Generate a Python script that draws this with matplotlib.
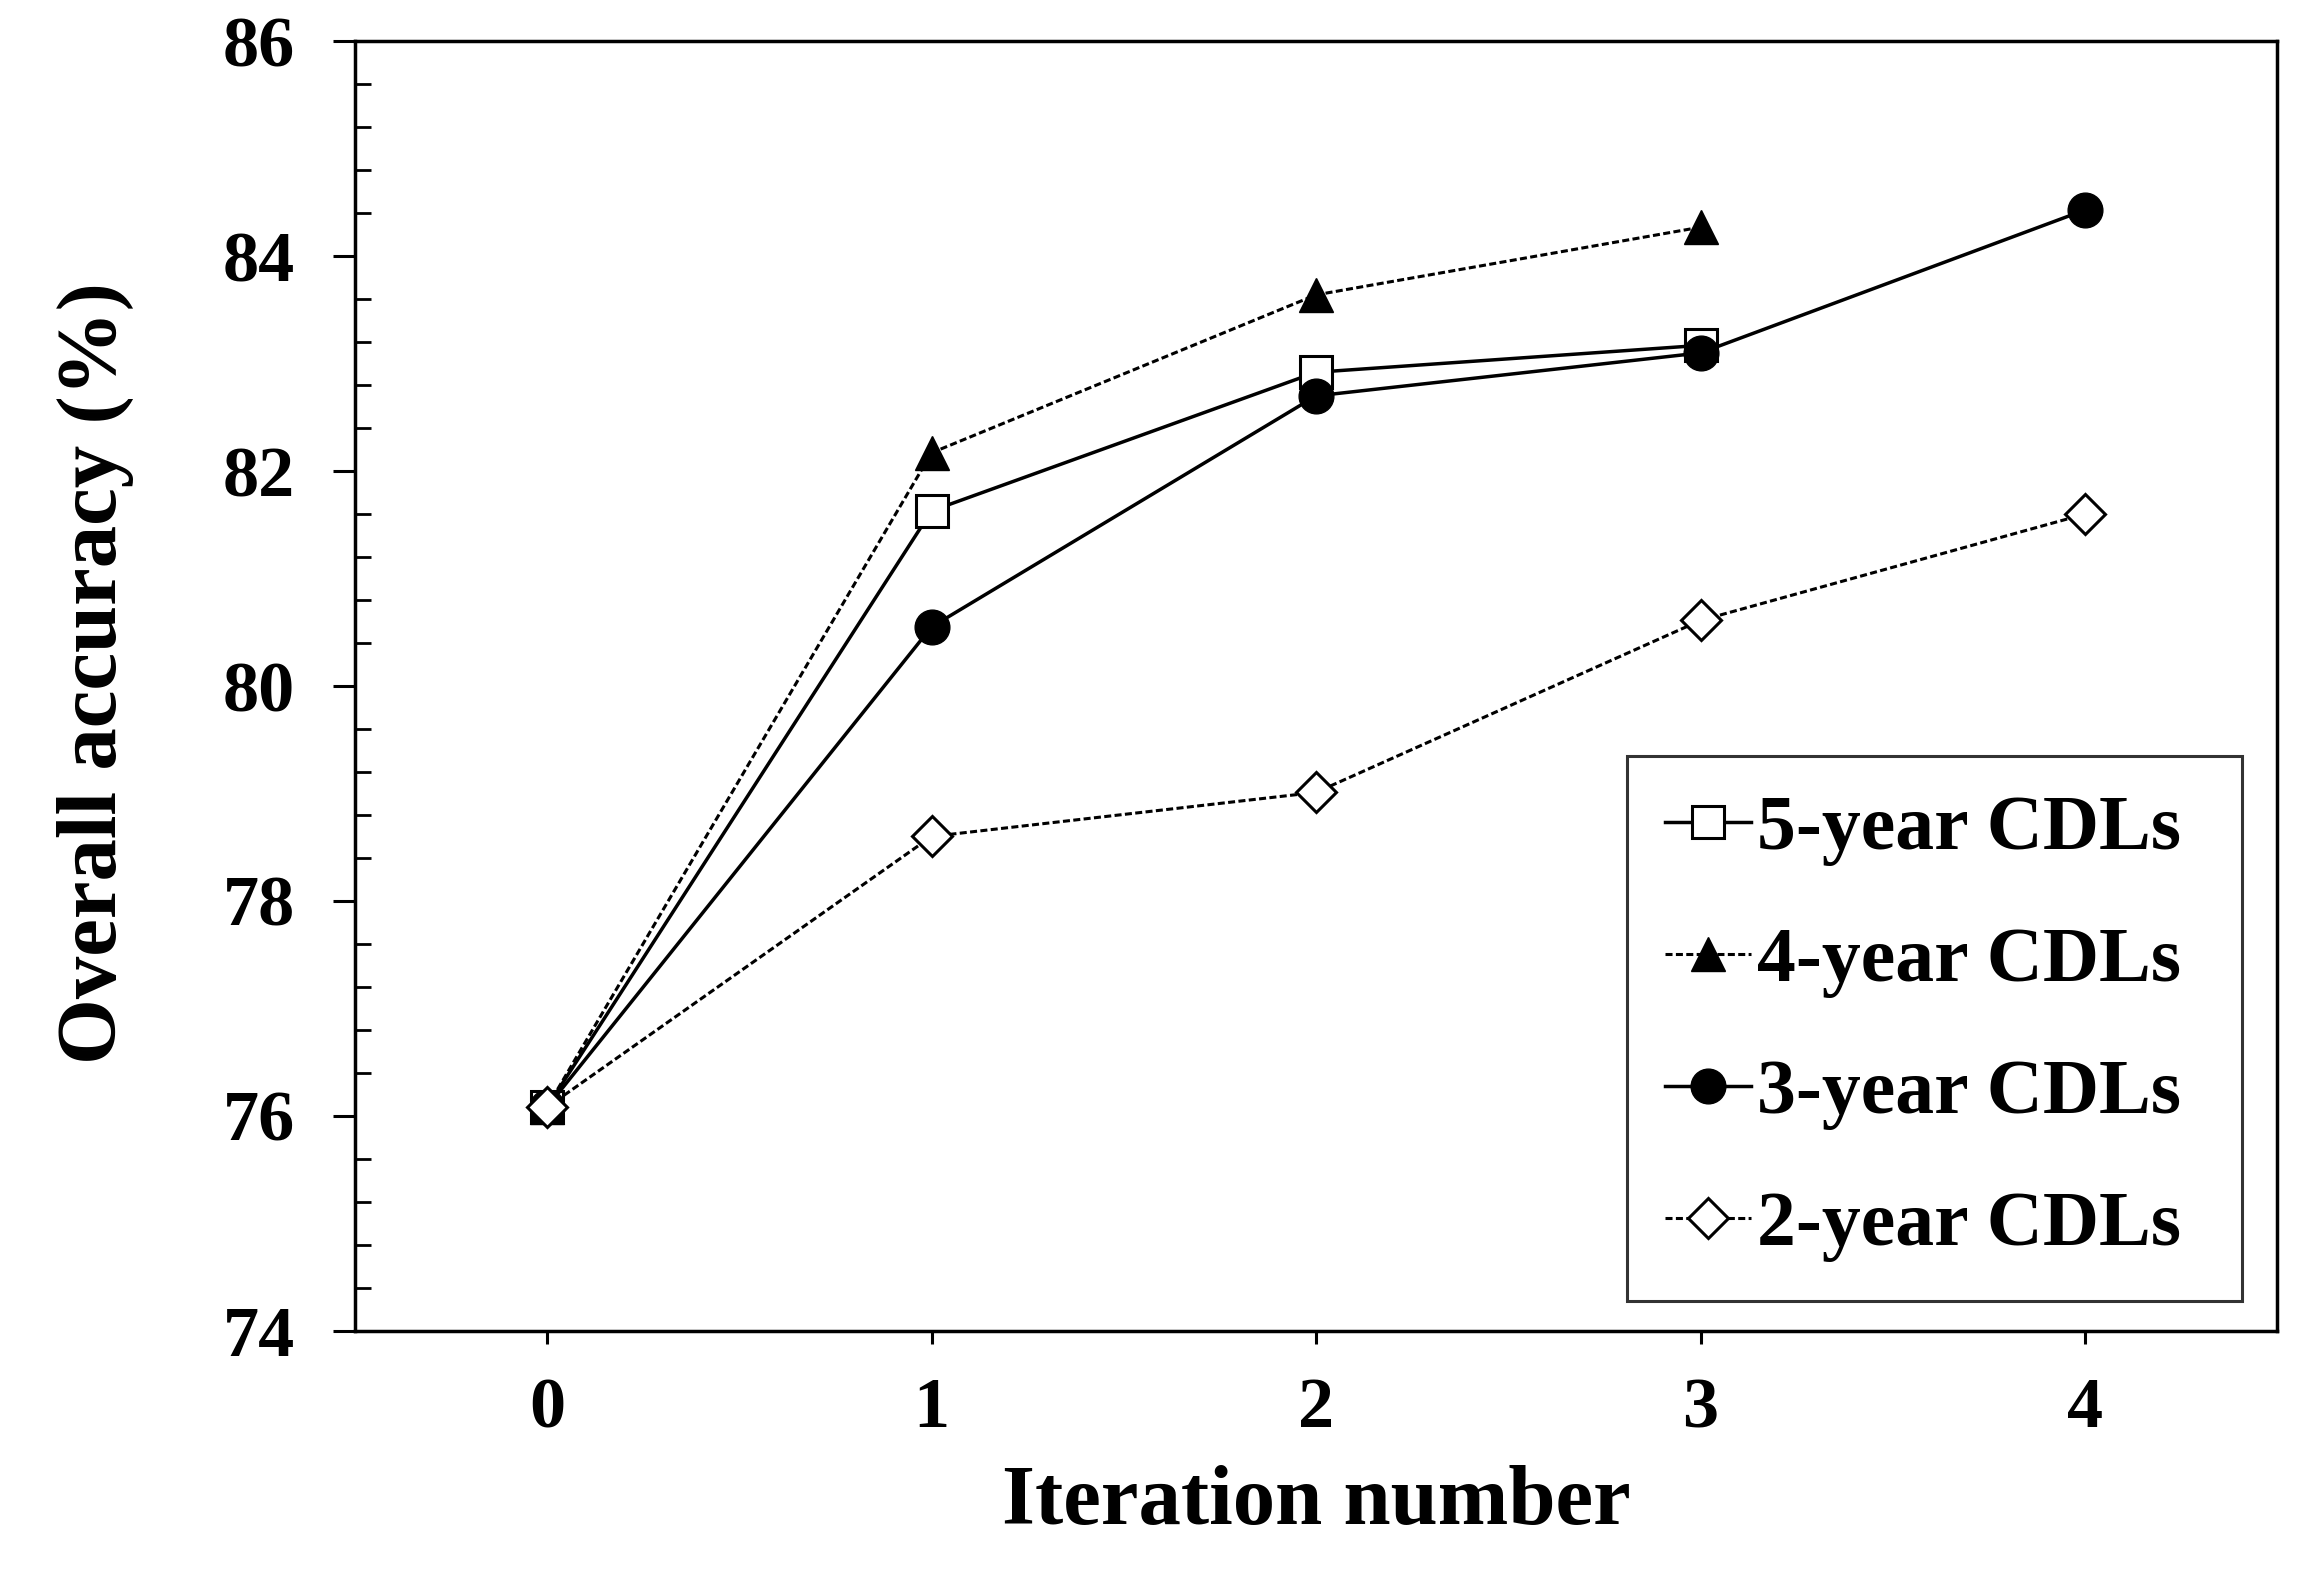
import matplotlib
matplotlib.use("Agg")
import matplotlib.pyplot as plt
from matplotlib.ticker import MultipleLocator

# Data
iterations_5 = [0, 1, 2, 3]
acc_5 = [76.08, 81.63, 82.92, 83.17]

iterations_4 = [0, 1, 2, 3]
acc_4 = [76.08, 82.17, 83.64, 84.27]

iterations_3 = [0, 1, 2, 3, 4]
acc_3 = [76.08, 80.55, 82.70, 83.10, 84.43]

iterations_2 = [0, 1, 2, 3, 4]
acc_2 = [76.08, 78.60, 79.01, 80.61, 81.60]

plt.rcParams['font.family'] = ['Liberation Serif', 'DejaVu Serif']
plt.rcParams['font.weight'] = 'bold'

fig = plt.figure(figsize=(23.19, 15.88), dpi=100)
ax = fig.add_axes([0.153, 0.162, 0.829, 0.812])

dash = (0, (2.3, 1.1))
ax.plot(iterations_5, acc_5, color='black', lw=2.5, marker='s', ms=23,
        mfc='white', mec='black', mew=2.2, label='5-year CDLs')
ax.plot(iterations_4, acc_4, color='black', lw=2.2, ls=dash, marker='^', ms=25,
        mfc='black', mec='black', label='4-year CDLs')
ax.plot(iterations_3, acc_3, color='black', lw=2.5, marker='o', ms=25,
        mfc='black', mec='black', label='3-year CDLs')
ax.plot(iterations_2, acc_2, color='black', lw=2.2, ls=dash, marker='D', ms=20,
        mfc='white', mec='black', mew=2.2, label='2-year CDLs')

ax.set_xlim(-0.5, 4.5)
ax.set_ylim(74, 86)
ax.set_xticks([0, 1, 2, 3, 4])
ax.yaxis.set_major_locator(MultipleLocator(2))
ax.yaxis.set_minor_locator(MultipleLocator(0.4))

ax.tick_params(axis='y', which='major', direction='out', length=16, width=2.2,
               labelsize=52, pad=27)
ax.tick_params(axis='y', which='minor', direction='in', length=11.5, width=2)
ax.tick_params(axis='x', which='major', direction='out', length=9.6, width=2.2,
               labelsize=52, pad=24)
for lab in ax.get_xticklabels() + ax.get_yticklabels():
    lab.set_fontweight('bold')
for sp in ax.spines.values():
    sp.set_linewidth(2.5)

ax.set_xlabel('Iteration number', fontsize=61, fontweight='bold', labelpad=16)
ax.set_ylabel('Overall accuracy (%)', fontsize=61, fontweight='bold', labelpad=64)
ax.yaxis.label.set_y(0.51)

leg = ax.legend(loc='lower right', bbox_to_anchor=(0.6615, 0.023, 0.32, 0.4),
                mode='expand', fontsize=56, frameon=True, fancybox=False,
                edgecolor='black', handlelength=1.1, handletextpad=0.08,
                labelspacing=0.78, borderpad=0.5, borderaxespad=0)
leg.get_frame().set_linewidth(2.2)
for t in leg.get_texts():
    t.set_fontweight('bold')

fig.savefig('out.png', dpi=100)
